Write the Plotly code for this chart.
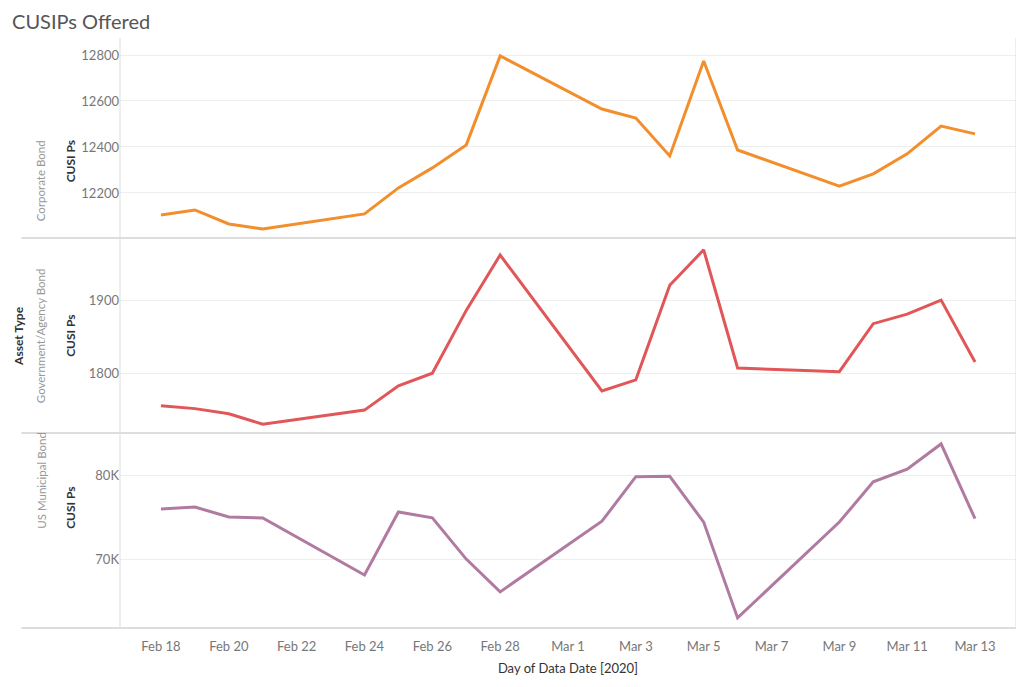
import plotly.graph_objects as go
from plotly.subplots import make_subplots

dates = ['2020-02-18', '2020-02-19', '2020-02-20', '2020-02-21', '2020-02-24', '2020-02-25',
         '2020-02-26', '2020-02-27', '2020-02-28', '2020-03-02', '2020-03-03', '2020-03-04',
         '2020-03-05', '2020-03-06', '2020-03-09', '2020-03-10', '2020-03-11', '2020-03-12',
         '2020-03-13']

corporate = [12104, 12126, 12065, 12043, 12109, 12222, 12309, 12409, 12796, 12565, 12526,
             12361, 12774, 12387, 12230, 12283, 12370, 12491, 12457]
government = [1757, 1753, 1746, 1732, 1751, 1784, 1801, 1886, 1961, 1777, 1792, 1920, 1968,
              1808, 1803, 1868, 1881, 1900, 1816]
municipal = [75950, 76200, 75000, 74900, 68100, 75600, 74900, 70000, 66100, 74500, 79800,
             79850, 74400, 63000, 74400, 79200, 80700, 83700, 74800]

rows = ['Corporate Bond', 'Government/Agency Bond', 'US Municipal Bond']
series = [corporate, government, municipal]
colors = ['#F28E2B', '#E15759', '#B07AA1']
ranges = [[12004, 12874], [1720, 1984], [61800, 85000]]
tickvals = [[12200, 12400, 12600, 12800], [1800, 1900], [70000, 80000]]
ticktext = [['12200', '12400', '12600', '12800'], ['1800', '1900'], ['70K', '80K']]

xticks = ['2020-02-18', '2020-02-20', '2020-02-22', '2020-02-24', '2020-02-26', '2020-02-28',
          '2020-03-01', '2020-03-03', '2020-03-05', '2020-03-07', '2020-03-09', '2020-03-11',
          '2020-03-13']
xlabels = ['Feb 18', 'Feb 20', 'Feb 22', 'Feb 24', 'Feb 26', 'Feb 28', 'Mar 1', 'Mar 3',
           'Mar 5', 'Mar 7', 'Mar 9', 'Mar 11', 'Mar 13']

fig = make_subplots(rows=3, cols=1, shared_xaxes=True, vertical_spacing=0)

for i in range(3):
    fig.add_trace(go.Scatter(x=dates, y=series[i], mode='lines',
                             line=dict(color=colors[i], width=3), showlegend=False),
                  row=i + 1, col=1)
    fig.update_yaxes(range=ranges[i], tickvals=tickvals[i], ticktext=ticktext[i],
                     showgrid=True, gridcolor='#EEEEEE', zeroline=False,
                     tickfont=dict(size=13, color='#777777'), ticks='', showline=False,
                     row=i + 1, col=1)

fig.update_xaxes(range=['2020-02-16 19:00', '2020-03-14 05:00'], showgrid=False,
                 zeroline=False, showline=False)
fig.update_xaxes(tickvals=xticks, ticktext=xlabels, tickfont=dict(size=13, color='#777777'),
                 ticklabelstandoff=9,
                 title=dict(text='Day of Data Date [2020]', font=dict(size=13, color='#333333'),
                            standoff=10),
                 row=3, col=1)

# row domains in pixels: 200, 195, 195 of the 590 px plot area
fig.update_layout(yaxis=dict(domain=[390 / 590, 1]), yaxis2=dict(domain=[195 / 590, 390 / 590]),
                  yaxis3=dict(domain=[0, 195 / 590]))

shapes = []
for y in [0, 195 / 590, 390 / 590]:
    shapes.append(dict(type='line', xref='paper', yref='paper', x0=-0.11, x1=1, y0=y, y1=y,
                       line=dict(color='#BBBBBB', width=1)))
shapes.append(dict(type='line', xref='paper', yref='paper', x0=0, x1=0, y0=0, y1=1,
                   line=dict(color='#DDDDDD', width=1)))
shapes.append(dict(type='line', xref='paper', yref='paper', x0=1, x1=1, y0=0, y1=1,
                   line=dict(color='#DDDDDD', width=1)))

ann = []
centers = [(590 - 100) / 590, (590 - 297.5) / 590, (590 - 492.5) / 590]
for i in range(3):
    ann.append(dict(text=rows[i], x=-0.098, y=centers[i], xref='paper', yref='paper',
                    textangle=-90, showarrow=False, font=dict(size=11.5, color='#999999')))
    ann.append(dict(text='<b>CUSI Ps</b>', x=-0.066, y=centers[i], xref='paper', yref='paper',
                    textangle=-90, showarrow=False, font=dict(size=12, color='#333333')))
ann.append(dict(text='<b>Asset Type</b>', x=-0.124, y=centers[1], xref='paper', yref='paper',
                textangle=-90, showarrow=False, font=dict(size=12, color='#333333')))

fig.update_layout(
    width=1008, height=671,
    margin=dict(l=112, r=0, t=30, b=51, autoexpand=False),
    title=dict(text='CUSIPs Offered', x=0.004, y=0.99, xanchor='left', yanchor='top',
               font=dict(size=20, color='#555555')),
    font=dict(family='Lato'),
    plot_bgcolor='white', paper_bgcolor='white',
    shapes=shapes, annotations=ann,
)

fig.write_html('out.html')
